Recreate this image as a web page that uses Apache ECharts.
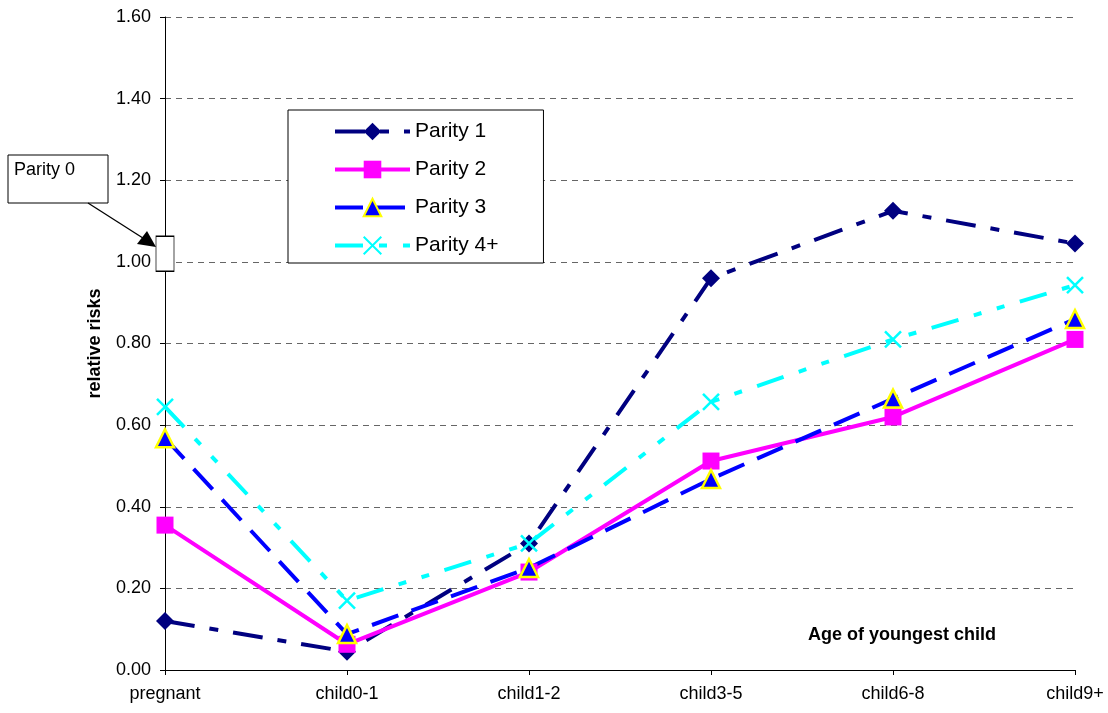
<!DOCTYPE html>
<html>
<head>
<meta charset="utf-8">
<script src="https://cdn.jsdelivr.net/npm/echarts@6/dist/echarts.min.js"></script>
<style>html,body{margin:0;padding:0;background:#fff;}#c{width:1108px;height:713px;}</style>
</head>
<body>
<div id="c"></div>
<script>
const categories = ['pregnant', 'child0-1', 'child1-2', 'child3-5', 'child6-8', 'child9+'];
const parity1 = [0.12, 0.045, 0.31, 0.96, 1.125, 1.045];
const parity2 = [0.355, 0.063, 0.24, 0.512, 0.62, 0.81];
const parity3 = [0.568, 0.088, 0.25, 0.468, 0.665, 0.86];
const parity4 = [0.645, 0.17, 0.31, 0.657, 0.81, 0.943];
const parity0 = [['pregnant', 1.02]];
const yTicks = { min: 0, max: 1.6, interval: 0.2 };

const chart = echarts.init(document.getElementById('c'));
const font = 'Liberation Sans, Arial, sans-serif';
const X_PATH = 'path://M0,0L10,10M10,0L0,10';
chart.setOption({
  animation: false,
  grid: { left: 165, right: 33, top: 17, bottom: 43 },
  legend: {
    data: ['Parity 1', 'Parity 2', 'Parity 3', 'Parity 4+'],
    orient: 'vertical',
    left: 288, top: 110,
    padding: [11, 45, 7, 45],
    itemWidth: 75, itemHeight: 22, itemGap: 17,
    borderColor: '#000', borderWidth: 1,
    backgroundColor: '#fff',
    lineStyle: { width: 4 },
    textStyle: { fontFamily: font, fontSize: 21, color: '#000' }
  },
  xAxis: {
    type: 'category', data: categories, boundaryGap: false,
    axisLine: { lineStyle: { color: '#000', width: 1 } },
    axisTick: { show: true, alignWithLabel: true, length: 5, lineStyle: { color: '#000' } },
    axisLabel: { fontFamily: font, fontSize: 18, color: '#000', margin: 15 }
  },
  yAxis: {
    type: 'value', min: yTicks.min, max: yTicks.max, interval: yTicks.interval,
    name: 'relative risks', nameLocation: 'middle', nameGap: 61,
    nameTextStyle: { fontFamily: font, fontSize: 18, fontWeight: 'bold', color: '#000' },
    axisLine: { show: true, lineStyle: { color: '#000', width: 1 } },
    axisTick: { show: true, length: 5, lineStyle: { color: '#000' } },
    axisLabel: { fontFamily: font, fontSize: 18, color: '#000', margin: 14, formatter: v => v.toFixed(2) },
    splitLine: { show: true, lineStyle: { color: '#666', type: [6, 5], width: 1 } }
  },
  series: [
    {
      name: 'Parity 1', type: 'line', data: parity1,
      symbol: 'diamond', symbolSize: 18,
      itemStyle: { color: '#000080' },
      lineStyle: { color: '#000080', width: 4, type: [30, 15, 9, 15] }
    },
    {
      name: 'Parity 2', type: 'line', data: parity2,
      symbol: 'rect', symbolSize: 17,
      itemStyle: { color: '#FF00FF' },
      lineStyle: { color: '#FF00FF', width: 4 }
    },
    {
      name: 'Parity 3', type: 'line', data: parity3,
      symbol: 'triangle', symbolSize: 18,
      itemStyle: { color: '#0000FF', borderColor: '#FFFF00', borderWidth: 2.5 },
      lineStyle: { color: '#0000FF', width: 4, type: [28, 14] }
    },
    {
      name: 'Parity 4+', type: 'line', data: parity4,
      symbol: X_PATH, symbolSize: 16,
      itemStyle: { color: '#00FFFF', borderColor: '#00FFFF', borderWidth: 2.5 },
      lineStyle: { color: '#00FFFF', width: 4, type: [28, 16, 8, 16, 8, 16] }
    },
    {
      name: 'Parity 0', type: 'scatter', data: parity0,
      symbol: 'rect', symbolSize: [18, 35],
      itemStyle: { color: '#fff', borderColor: '#000', borderWidth: 1, opacity: 1 },
      z: 5
    }
  ],
  graphic: [
    { type: 'rect', shape: { x: 8, y: 155, width: 100, height: 48 }, style: { fill: '#fff', stroke: '#000', lineWidth: 1 } },
    { type: 'text', left: 14, top: 161, style: { text: 'Parity 0', font: '18px Liberation Sans, Arial, sans-serif', fill: '#000' } },
    { type: 'line', shape: { x1: 88, y1: 203, x2: 146, y2: 240 }, style: { stroke: '#000', lineWidth: 1.3 } },
    { type: 'polygon', shape: { points: [[156, 247], [137, 244], [147, 231]] }, style: { fill: '#000' } },
    { type: 'text', left: 808, top: 626, style: { text: 'Age of youngest child', font: 'bold 18px Liberation Sans, Arial, sans-serif', fill: '#000' } }
  ]
});
</script>
</body>
</html>
